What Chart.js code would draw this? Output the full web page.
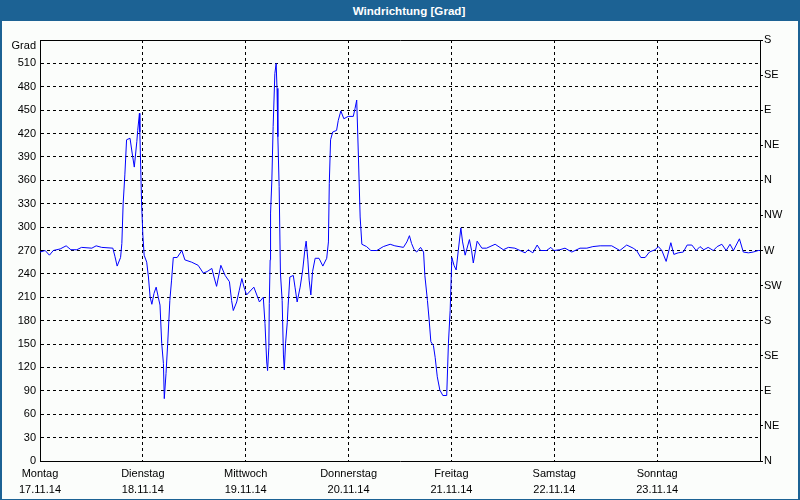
<!DOCTYPE html>
<html>
<head>
<meta charset="utf-8">
<title>Windrichtung</title>
<script src="https://cdn.jsdelivr.net/npm/chart.js@4/dist/chart.umd.min.js"></script>
<style>
    html, body { margin: 0; padding: 0; }
    #frame {
        position: relative;
        width: 800px;
        height: 500px;
        box-sizing: border-box;
        background: #fbfdfb;
        border-left: 2px solid #1c6294;
        border-right: 2px solid #1c6294;
        border-bottom: 1px solid #1c6294;
    }
    #title {
        position: absolute;
        left: -2px;
        top: 0;
        width: 800px;
        height: 21px;
        box-sizing: border-box;
        padding-left: 18px;
        background: #1c6294;
        color: #fff;
        font: bold 11.6px "Liberation Sans", Arial, sans-serif;
        line-height: 21px;
        text-align: center;
    }
    #chart { position: absolute; left: -2px; top: 0; }
</style>
</head>
<body>
<div id="frame">
    <div id="title">Windrichtung [Grad]</div>
    <canvas id="chart" width="800" height="500"></canvas>
</div>
<script>
// x: hours since Monday 17.11.14 00:00, y: wind direction in degrees
const hours = [
    0, 1.2, 2.2, 3.1, 4.7, 6.1, 7.2, 8.6, 9.7, 12.1,
    13.1, 14.4, 17.0, 17.5, 18.0, 18.8, 19.1, 19.4, 19.8, 20.2,
    21.0, 21.5, 22.0, 22.6, 22.8, 23.2, 23.3, 23.7, 24.0, 24.3,
    24.9, 25.3, 25.7, 26.1, 26.6, 27.1, 27.6, 28.0, 28.4, 28.8,
    29.0, 29.4, 29.8, 30.3, 30.7, 31.1, 32.0, 33.1, 33.8, 35.4,
    36.9, 38.1, 39.0, 40.1, 40.6, 41.2, 42.2, 43.2, 44.2, 44.7,
    45.1, 45.9, 46.5, 47.1, 47.6, 48.2, 49.9, 51.2, 52.1, 52.5,
    52.9, 53.1, 53.4, 53.5, 53.7, 53.8, 54.1, 54.4, 54.8, 55.1,
    55.3, 55.5, 55.8, 56.1, 56.5, 56.8, 57.0, 57.3, 57.7, 57.9,
    58.3, 59.1, 59.5, 60.0, 60.7, 61.3, 61.8, 62.1, 62.5, 62.8,
    63.2, 63.6, 64.2, 65.1, 66.0, 66.9, 67.3, 67.5, 67.8, 68.3,
    69.2, 69.6, 70.2, 70.9, 71.9, 73.1, 73.5, 73.9, 74.3, 74.7,
    75.1, 76.2, 77.2, 78.6, 80.1, 81.7, 82.8, 84.8, 85.6, 86.2,
    86.7, 87.3, 87.9, 88.8, 89.5, 89.8, 90.4, 90.8, 91.2, 91.8,
    92.2, 92.7, 93.3, 94.0, 94.9, 95.3, 95.7, 96.1, 96.6, 97.1,
    97.6, 98.2, 98.6, 99.2, 100.2, 100.7, 101.1, 102.0, 103.1, 104.2,
    106.2, 108.1, 109.3, 110.8, 112.0, 113.2, 113.9, 115.0, 116.0, 116.8,
    118.2, 119.2, 119.9, 121.3, 122.5, 124.1, 126.0, 127.6, 129.0, 130.7,
    133.4, 135.3, 136.9, 138.4, 139.2, 140.2, 141.2, 142.2, 143.5, 144.3,
    145.1, 146.1, 147.2, 147.9, 148.9, 150.1, 151.0, 152.1, 153.1, 154.0,
    154.9, 155.9, 157.1, 158.0, 159.1, 160.1, 161.0, 161.8, 163.2, 164.1,
    165.3, 166.4, 167.6, 168
];
const degrees = [
    268, 270, 264, 270, 272, 276, 271, 271, 274, 273,
    276, 274, 273, 262, 250, 261, 279, 330, 367, 412,
    414, 395, 377, 410, 424, 446, 422, 331, 290, 264,
    255, 236, 210, 201, 215, 223, 210, 200, 151, 125,
    80, 112, 151, 206, 232, 261, 261, 270, 258, 255,
    251, 241, 243, 247, 236, 224, 251, 238, 230, 206,
    193, 204, 219, 234, 223, 213, 223, 204, 210, 176,
    127, 116, 146, 202, 258, 318, 360, 429, 497, 510,
    478, 416, 352, 241, 206, 136, 117, 151, 178, 200,
    236, 238, 223, 204, 223, 245, 271, 282, 258, 232,
    213, 243, 260, 260, 250, 260, 281, 356, 412, 422,
    424, 437, 449, 439, 442, 442, 452, 463, 390, 313,
    278, 275, 270, 270, 275, 278, 276, 274, 281, 289,
    279, 271, 268, 274, 268, 238, 206, 181, 153, 148,
    133, 108, 91, 84, 84, 151, 193, 261, 251, 245,
    270, 299, 281, 264, 284, 270, 254, 282, 273, 273,
    278, 271, 274, 273, 270, 267, 271, 267, 277, 270,
    270, 274, 270, 271, 273, 268, 273, 273, 275, 276,
    276, 270, 277, 273, 270, 261, 261, 268, 271, 275,
    270, 256, 280, 265, 267, 268, 277, 277, 270, 275,
    271, 274, 270, 275, 278, 270, 278, 270, 285, 268,
    267, 268, 270, 270
];

const dayNames = ["Montag", "Dienstag", "Mittwoch", "Donnerstag", "Freitag", "Samstag", "Sonntag"];
const dayDates = ["17.11.14", "18.11.14", "19.11.14", "20.11.14", "21.11.14", "22.11.14", "23.11.14"];
const compass = ["N", "NE", "E", "SE", "S", "SW", "W", "NW", "N", "NE", "E", "SE", "S"];

const points = hours.map((h, i) => ({ x: h, y: degrees[i] }));

const font = { family: "'Liberation Sans', Arial, sans-serif", size: 11 };
const dash = [3, 3];

const ctx = document.getElementById("chart").getContext("2d");
const windChart = new Chart(ctx, {
    type: "line",
    data: {
        datasets: [{
            data: points,
            borderColor: "#0000ff",
            borderWidth: 1,
            pointRadius: 0,
            tension: 0,
            fill: false
        }]
    },
    options: {
        responsive: false,
        animation: false,
        devicePixelRatio: 1,
        layout: { padding: { top: 40, left: 0, right: 0, bottom: 0 } },
        plugins: { legend: { display: false }, tooltip: { enabled: false } },
        scales: {
            x: {
                type: "linear",
                position: "bottom",
                min: 0,
                max: 168,
                afterFit: scale => { scale.height = 39; },
                afterBuildTicks: scale => {
                    scale.ticks = [0, 24, 48, 72, 96, 120, 144, 168].map(v => ({ value: v }));
                },
                ticks: {
                    autoSkip: false,
                    maxRotation: 0,
                    padding: 5,
                    color: "#000",
                    font: { ...font, lineHeight: 16 / 11 },
                    callback: value => {
                        const i = value / 24;
                        return i < dayNames.length ? [dayNames[i], dayDates[i]] : "";
                    }
                },
                grid: { color: "#000", drawTicks: false },
                border: { display: true, color: "#000", width: 1, dash: dash }
            },
            xTop: {
                type: "linear",
                position: "top",
                min: 0,
                max: 168,
                afterFit: scale => { scale.height = 0; },
                ticks: { display: false },
                grid: { display: false },
                border: { display: true, color: "#000", width: 1 }
            },
            y: {
                position: "left",
                min: 0,
                max: 540,
                afterFit: scale => { scale.width = 40; },
                ticks: {
                    stepSize: 30,
                    autoSkip: false,
                    padding: 4,
                    color: "#000",
                    font: { ...font, lineHeight: 1.1 },
                    callback: value => value === 540 ? ["", "Grad"] : value
                },
                grid: {
                    drawTicks: false,
                    color: c => (c.tick && c.tick.value === 540) ? "rgba(0,0,0,0)" : "#000"
                },
                border: { display: true, color: "#000", width: 1, dash: dash }
            },
            y2: {
                position: "right",
                min: 0,
                max: 540,
                afterFit: scale => { scale.width = 40; },
                ticks: {
                    stepSize: 45,
                    autoSkip: false,
                    padding: 1,
                    color: "#000",
                    font: font,
                    callback: (value, index) => compass[index]
                },
                grid: {
                    drawOnChartArea: false,
                    drawTicks: true,
                    tickLength: 3,
                    tickColor: "#000"
                },
                border: { display: true, color: "#000", width: 1 }
            }
        }
    }
});
</script>
</body>
</html>
